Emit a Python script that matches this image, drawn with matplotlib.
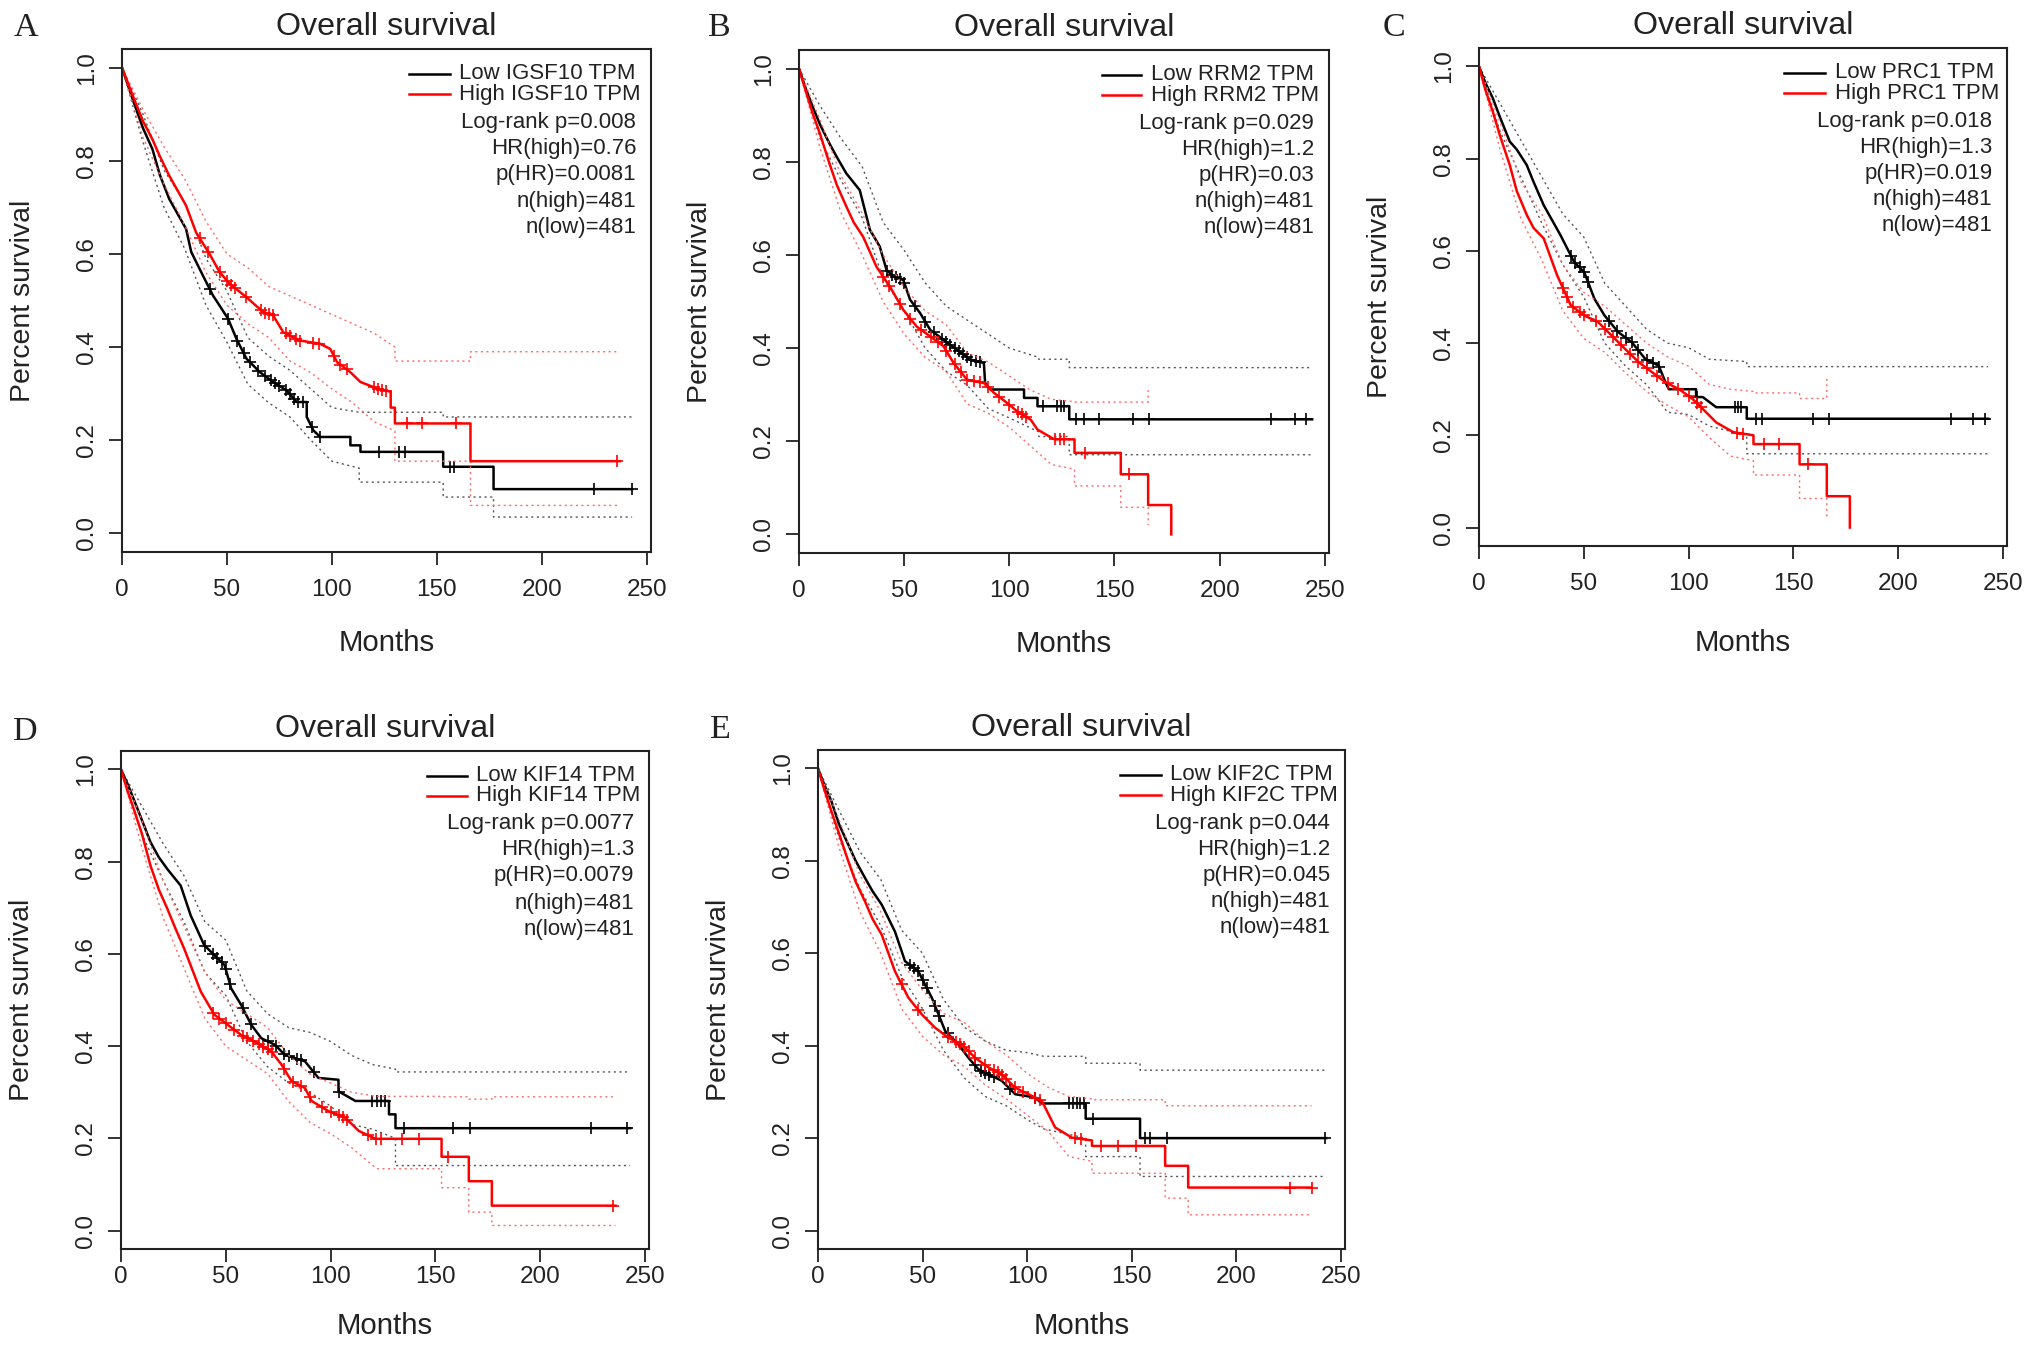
import numpy as np
import matplotlib
matplotlib.use('Agg')
from matplotlib import pyplot as plt

plt.rcParams['font.family'] = ['Liberation Sans', 'DejaVu Sans']

# ---- panel A : IGSF10 ----
A_low_t = [0, 3, 6, 10, 14.5, 18, 22.5, 26, 30.5, 33, 38.5, 43.3, 46.5, 50.5, 54.5, 59.3, 65.7, 72, 78.4, 83.2,
           88, 88, 91.2, 94.4, 108.8, 108.8, 113.6, 113.6, 153, 153, 177, 177, 243]
A_low_s = [1, 0.96, 0.92, 0.87, 0.825, 0.77, 0.718, 0.69, 0.654, 0.604, 0.554, 0.511, 0.489, 0.461, 0.418, 0.375,
           0.346, 0.325, 0.307, 0.282, 0.282, 0.25, 0.221, 0.207, 0.207, 0.189, 0.189, 0.175, 0.175, 0.143, 0.143,
           0.095, 0.095]
A_low_cens = [41.7, 50.5, 55, 58, 61, 65, 68, 71, 73, 75, 78, 80, 82, 84, 86, 90.4, 94.4, 122.3, 132, 134.8,
              156.4, 158, 225, 242.8]
A_low_ci_t = [0, 10, 20, 30, 40, 50, 60, 70, 80, 90, 100, 113, 113, 153, 153, 177, 177, 243]
A_low_lo = [1, 0.84, 0.70, 0.61, 0.49, 0.41, 0.32, 0.28, 0.25, 0.20, 0.155, 0.14, 0.11, 0.11, 0.078, 0.078, 0.035, 0.035]
A_low_hi = [1, 0.90, 0.78, 0.71, 0.59, 0.52, 0.42, 0.38, 0.35, 0.31, 0.27, 0.26, 0.26, 0.26, 0.25, 0.25, 0.25, 0.25]

A_high_t = [0, 3, 6, 10, 14.5, 18, 22.5, 26, 30.5, 35.3, 41.7, 46.5, 51.3, 59.3, 67.3, 72, 76.8, 84.8, 94.4, 99.2,
            102.4, 108.8, 113.6, 121.6, 128, 128, 130, 130, 166, 166, 237]
A_high_s = [1, 0.965, 0.93, 0.885, 0.846, 0.81, 0.768, 0.74, 0.704, 0.646, 0.6, 0.561, 0.536, 0.507, 0.475, 0.468,
            0.432, 0.414, 0.407, 0.396, 0.368, 0.346, 0.325, 0.311, 0.304, 0.27, 0.27, 0.236, 0.236, 0.155, 0.155]
A_high_cens = [37, 41, 46.5, 50, 52, 54, 59, 66, 68, 70, 72, 78, 80, 83, 85, 91, 94, 101, 104, 107, 120, 122, 124,
               126, 136, 143, 158.9, 236]
A_high_ci_t = [0, 10, 20, 30, 40, 50, 60, 70, 80, 90, 100, 110, 120, 130, 130, 166, 166, 237]
A_high_lo = [1, 0.85, 0.75, 0.66, 0.56, 0.49, 0.45, 0.42, 0.37, 0.345, 0.31, 0.28, 0.24, 0.22, 0.155, 0.155, 0.06, 0.06]
A_high_hi = [1, 0.91, 0.83, 0.76, 0.67, 0.60, 0.57, 0.53, 0.51, 0.49, 0.47, 0.45, 0.43, 0.40, 0.37, 0.37, 0.39, 0.39]

# ---- panel B : RRM2 ----
B_low_t = [0, 3, 6.5, 10, 14.5, 18, 22.5, 28.9, 33.7, 38.4, 41.6, 44.8, 49.6, 52.8, 57.6, 62.4, 68.7, 75.1, 81.5,
           87.9, 88.5, 91, 107, 107, 113.4, 113.4, 128.5, 128.5, 244]
B_low_s = [1, 0.96, 0.918, 0.88, 0.839, 0.81, 0.775, 0.739, 0.654, 0.618, 0.568, 0.554, 0.546, 0.504, 0.475, 0.439,
           0.418, 0.396, 0.375, 0.368, 0.325, 0.311, 0.311, 0.293, 0.293, 0.275, 0.275, 0.247, 0.247]
B_low_cens = [42, 44, 46, 48, 50, 55, 60, 64, 68, 70, 72, 74, 76, 78, 80, 82, 84, 86, 116, 122.5, 124.6, 126,
              131.8, 135.3, 142.7, 158.6, 166.3, 224.6, 235.6, 241]
B_low_ci_t = [0, 10, 20, 30, 40, 50, 60, 70, 80, 90, 100, 114, 114, 128.5, 128.5, 244]
B_low_lo = [1, 0.85, 0.76, 0.68, 0.55, 0.48, 0.40, 0.35, 0.32, 0.27, 0.25, 0.22, 0.21, 0.21, 0.171, 0.171]
B_low_hi = [1, 0.92, 0.85, 0.79, 0.67, 0.61, 0.54, 0.49, 0.46, 0.43, 0.40, 0.38, 0.376, 0.376, 0.358, 0.358]

B_high_t = [0, 3, 6.5, 10, 14.5, 18, 22.5, 26, 30.5, 36.8, 43.2, 49.6, 56, 62.4, 68.7, 73.5, 79.9, 87.9, 92.7, 99,
            103.8, 110.2, 113.4, 121.4, 131, 131, 153, 153, 166, 166, 177, 177]
B_high_s = [1, 0.955, 0.904, 0.86, 0.796, 0.75, 0.704, 0.67, 0.639, 0.575, 0.532, 0.482, 0.446, 0.425, 0.404, 0.368,
            0.332, 0.325, 0.304, 0.282, 0.264, 0.246, 0.225, 0.204, 0.204, 0.175, 0.175, 0.129, 0.129, 0.063, 0.063, 0.0]
B_high_cens = [40, 43, 48, 53, 58, 63, 66, 70, 74, 77, 80, 83, 86, 90, 95, 100, 104, 106, 108, 121.5, 124, 126,
               136, 157]
B_high_ci_t = [0, 10, 20, 30, 40, 50, 60, 70, 80, 90, 100, 110, 120, 131, 131, 153, 153, 166, 166]
B_high_lo = [1, 0.83, 0.69, 0.60, 0.50, 0.43, 0.38, 0.35, 0.28, 0.26, 0.23, 0.19, 0.15, 0.14, 0.104, 0.104, 0.058,
             0.058, 0.02]
B_high_hi = [1, 0.89, 0.77, 0.69, 0.60, 0.53, 0.48, 0.45, 0.39, 0.37, 0.34, 0.31, 0.29, 0.285, 0.284, 0.284, 0.284,
             0.284, 0.31]

# ---- panel C : PRC1 ----
C_low_t = [0, 3, 6.6, 10, 14.7, 18, 22.8, 26, 30.9, 38.9, 45.4, 50.2, 55.1, 59.9, 66.4, 72.9, 79.3, 85.8, 89, 90.6,
           103.6, 103.6, 106.8, 113.2, 127.8, 127.8, 243]
C_low_s = [1, 0.965, 0.931, 0.89, 0.837, 0.82, 0.786, 0.75, 0.699, 0.634, 0.576, 0.554, 0.496, 0.46, 0.424, 0.402,
           0.366, 0.351, 0.315, 0.30, 0.30, 0.283, 0.283, 0.261, 0.261, 0.236, 0.236]
C_low_cens = [44, 46, 48, 50, 52, 62, 66, 70, 73, 76, 80, 83, 86, 104, 122, 123.7, 125, 132, 135, 159.3, 167.2,
              225.1, 236, 241.7]
C_low_ci_t = [0, 10, 20, 30, 40, 50, 60, 70, 80, 90, 100, 110, 127.8, 127.8, 243]
C_low_lo = [1, 0.86, 0.76, 0.66, 0.57, 0.50, 0.40, 0.35, 0.31, 0.25, 0.245, 0.22, 0.20, 0.16, 0.16]
C_low_hi = [1, 0.92, 0.84, 0.76, 0.68, 0.63, 0.53, 0.48, 0.43, 0.40, 0.39, 0.365, 0.36, 0.349, 0.349]

C_high_t = [0, 3, 6.6, 10, 14.7, 18, 22.8, 26, 30.9, 37.3, 43.8, 50.2, 56.7, 63.2, 69.6, 76.1, 82.6, 89, 95.5,
            101.9, 108.4, 113.2, 121.3, 131, 131, 153, 153, 166, 166, 177, 177]
C_high_s = [1, 0.95, 0.902, 0.85, 0.786, 0.73, 0.678, 0.65, 0.627, 0.547, 0.482, 0.46, 0.446, 0.417, 0.388, 0.359,
            0.337, 0.315, 0.30, 0.279, 0.25, 0.228, 0.207, 0.2, 0.181, 0.181, 0.137, 0.137, 0.068, 0.068, 0.0]
C_high_cens = [40, 42, 45, 48, 50, 56, 60, 64, 68, 72, 76, 80, 85, 90, 95, 100, 104, 106, 122.9, 126.2, 135.9, 143,
               156.8]
C_high_ci_t = [0, 10, 20, 30, 40, 50, 60, 70, 80, 90, 100, 110, 120, 131, 131, 153, 153, 166, 166]
C_high_lo = [1, 0.82, 0.67, 0.58, 0.47, 0.41, 0.38, 0.335, 0.295, 0.265, 0.24, 0.195, 0.155, 0.145, 0.114, 0.114,
             0.063, 0.063, 0.02]
C_high_hi = [1, 0.88, 0.75, 0.68, 0.57, 0.51, 0.48, 0.44, 0.40, 0.37, 0.35, 0.31, 0.30, 0.295, 0.292, 0.292, 0.28,
             0.28, 0.33]

# ---- panel D : KIF14 ----
D_low_t = [0, 3, 6.1, 10, 14.1, 18, 22.1, 28.5, 33.3, 39.7, 46.2, 49.4, 52.6, 57.4, 62.2, 67, 73.4, 78.2, 87.8,
           94.2, 103.8, 103.8, 111.9, 127.9, 127.9, 131, 131, 243]
D_low_s = [1, 0.97, 0.935, 0.89, 0.842, 0.81, 0.784, 0.748, 0.683, 0.619, 0.59, 0.576, 0.525, 0.489, 0.446, 0.417,
           0.403, 0.381, 0.367, 0.331, 0.327, 0.302, 0.281, 0.281, 0.252, 0.252, 0.222, 0.222]
D_low_cens = [40, 44, 46, 48, 50, 52, 58, 62, 70, 74, 78, 80, 84, 86, 92, 104, 120, 122, 124, 126, 135.3, 158.5,
              166.4, 224.5, 241.7]
D_low_ci_t = [0, 10, 20, 30, 40, 50, 60, 70, 80, 90, 100, 110, 120, 131, 131, 243]
D_low_lo = [1, 0.86, 0.76, 0.67, 0.56, 0.51, 0.41, 0.355, 0.32, 0.30, 0.27, 0.23, 0.22, 0.20, 0.141, 0.141]
D_low_hi = [1, 0.92, 0.84, 0.77, 0.67, 0.63, 0.52, 0.47, 0.44, 0.43, 0.41, 0.38, 0.36, 0.35, 0.344, 0.344]

D_high_t = [0, 3, 6.1, 10, 14.1, 18, 22.1, 26, 30.1, 38.1, 44.6, 51, 57.4, 65.4, 71.8, 76.6, 81.4, 87.8, 91, 99,
            107, 113.5, 121.5, 153, 153, 166, 166, 177, 177, 236]
D_high_s = [1, 0.955, 0.914, 0.86, 0.791, 0.74, 0.698, 0.655, 0.612, 0.518, 0.468, 0.446, 0.424, 0.406, 0.388,
            0.36, 0.324, 0.309, 0.281, 0.259, 0.245, 0.216, 0.199, 0.199, 0.16, 0.16, 0.107, 0.107, 0.054, 0.054]
D_high_cens = [44, 47, 50, 54, 58, 60, 63, 66, 68, 70, 72, 78, 82, 86, 90, 96, 100, 104, 106, 108, 118, 121.8,
               124.3, 134.2, 142.1, 156, 234.9]
D_high_ci_t = [0, 10, 20, 30, 40, 50, 60, 70, 80, 90, 100, 110, 122, 153, 153, 166, 166, 177, 177, 236]
D_high_lo = [1, 0.83, 0.68, 0.57, 0.46, 0.40, 0.37, 0.34, 0.28, 0.235, 0.21, 0.18, 0.134, 0.134, 0.093, 0.093,
             0.04, 0.04, 0.011, 0.011]
D_high_hi = [1, 0.89, 0.76, 0.66, 0.56, 0.50, 0.47, 0.44, 0.38, 0.34, 0.32, 0.30, 0.291, 0.291, 0.29, 0.29, 0.285,
             0.285, 0.29, 0.29]

# ---- panel E : KIF2C ----
E_low_t = [0, 3, 6.5, 10, 14.5, 18, 22.5, 26, 30.5, 36.8, 41.6, 48, 51.2, 54.4, 57.6, 60.8, 67.1, 71.9, 76.7, 81.5,
           87.9, 94.3, 103.8, 107, 128, 128, 154, 154, 243]
E_low_s = [1, 0.965, 0.928, 0.88, 0.835, 0.80, 0.763, 0.735, 0.705, 0.647, 0.583, 0.561, 0.532, 0.504, 0.468,
           0.432, 0.403, 0.374, 0.349, 0.338, 0.324, 0.295, 0.288, 0.275, 0.275, 0.242, 0.242, 0.2, 0.2]
E_low_cens = [44, 46, 48, 50, 52, 56, 58, 62, 75, 78, 80, 82, 84, 92, 104, 120, 122, 124, 125.5, 127, 131.7, 156.6,
              158.7, 167, 242.5]
E_low_ci_t = [0, 10, 20, 30, 40, 50, 60, 70, 80, 90, 100, 108, 128, 128, 154, 154, 243]
E_low_lo = [1, 0.85, 0.74, 0.66, 0.55, 0.48, 0.39, 0.33, 0.29, 0.27, 0.24, 0.22, 0.20, 0.16, 0.16, 0.117, 0.117]
E_low_hi = [1, 0.91, 0.82, 0.76, 0.65, 0.60, 0.50, 0.44, 0.41, 0.39, 0.385, 0.377, 0.377, 0.362, 0.362, 0.347, 0.347]

E_high_t = [0, 3, 6.5, 10, 14.5, 18, 22.5, 26, 30.5, 36.8, 43.2, 49.6, 56, 62.4, 68.7, 75.1, 81.5, 87.9, 94.3,
            100.6, 107, 110.2, 113.4, 121.4, 131, 131, 166, 166, 177, 177, 236]
E_high_s = [1, 0.955, 0.906, 0.86, 0.799, 0.755, 0.712, 0.675, 0.640, 0.561, 0.504, 0.468, 0.439, 0.417, 0.403,
            0.374, 0.353, 0.338, 0.309, 0.295, 0.281, 0.252, 0.223, 0.201, 0.195, 0.183, 0.183, 0.14, 0.14, 0.093, 0.093]
E_high_cens = [40, 48, 62, 66, 68, 70, 72, 75, 80, 84, 86, 88, 90, 94, 98, 104, 106, 123, 126, 135.5, 143.3, 152,
               225.6, 236]
E_high_ci_t = [0, 10, 20, 30, 40, 50, 60, 70, 80, 90, 100, 110, 120, 131, 131, 166, 166, 177, 177, 236]
E_high_lo = [1, 0.83, 0.69, 0.60, 0.48, 0.42, 0.38, 0.355, 0.315, 0.285, 0.25, 0.215, 0.16, 0.15, 0.124, 0.124,
             0.07, 0.07, 0.034, 0.034]
E_high_hi = [1, 0.89, 0.77, 0.69, 0.58, 0.52, 0.47, 0.45, 0.41, 0.38, 0.34, 0.31, 0.29, 0.285, 0.283, 0.283, 0.27,
             0.27, 0.27, 0.27]

letters = ['A', 'B', 'C', 'D', 'E']
genes = ['IGSF10', 'RRM2', 'PRC1', 'KIF14', 'KIF2C']
logrank_p = ['0.008', '0.029', '0.018', '0.0077', '0.044']
hr_high = ['0.76', '1.2', '1.3', '1.3', '1.2']
p_hr = ['0.0081', '0.03', '0.019', '0.0079', '0.045']
n_high = [481, 481, 481, 481, 481]
n_low = [481, 481, 481, 481, 481]

low_groups = [
    (A_low_t, A_low_s, A_low_cens, A_low_ci_t, A_low_lo, A_low_hi),
    (B_low_t, B_low_s, B_low_cens, B_low_ci_t, B_low_lo, B_low_hi),
    (C_low_t, C_low_s, C_low_cens, C_low_ci_t, C_low_lo, C_low_hi),
    (D_low_t, D_low_s, D_low_cens, D_low_ci_t, D_low_lo, D_low_hi),
    (E_low_t, E_low_s, E_low_cens, E_low_ci_t, E_low_lo, E_low_hi),
]
high_groups = [
    (A_high_t, A_high_s, A_high_cens, A_high_ci_t, A_high_lo, A_high_hi),
    (B_high_t, B_high_s, B_high_cens, B_high_ci_t, B_high_lo, B_high_hi),
    (C_high_t, C_high_s, C_high_cens, C_high_ci_t, C_high_lo, C_high_hi),
    (D_high_t, D_high_s, D_high_cens, D_high_ci_t, D_high_lo, D_high_hi),
    (E_high_t, E_high_s, E_high_cens, E_high_ci_t, E_high_lo, E_high_hi),
]

# layout (pixels): box left, top, right, bottom
W, H = 2031, 1349
boxes = [(122, 49, 651, 552), (799, 50, 1329, 553), (1479, 48, 2007, 546),
         (121, 751, 649, 1249), (818, 750, 1345, 1249)]
xtick_pad = [10, 10, 10, 3, 3]          # points
months_off = [91, 91, 97, 77, 77]       # px below box
# legend: line start, line end, text start (axes fraction)
legend_x = [(0.543, 0.620, 0.637), (0.572, 0.645, 0.664), (0.577, 0.655, 0.674),
            (0.579, 0.655, 0.673), (0.573, 0.650, 0.667)]
legend_right = 0.972
legend_rows = [24.6, 45, 73, 99, 125, 152, 178]   # px below box top
letter_xy = [(26, 28), (719, 28), (1394, 28), (25, 732), (720, 730)]

PT = 0.72  # points per pixel at dpi 100
TXT = '#222222'

fig = plt.figure(figsize=(W / 100, H / 100), dpi=100)


def draw_group(ax, grp, color, ci_color):
    t, s, cens, ci_t, lo, hi = grp
    ax.plot(ci_t, lo, color=ci_color, lw=1.0, ls=(0, (1.5, 2.5)))
    ax.plot(ci_t, hi, color=ci_color, lw=1.0, ls=(0, (1.5, 2.5)))
    ax.plot(t, s, color=color, lw=1.8)
    cy = np.interp(cens, t, s)
    ax.plot(cens, cy, ls='none', marker='+', ms=9, mew=1.2, color=color)


for i in range(5):
    l, t, r, b = boxes[i]
    ax = fig.add_axes([l / W, 1 - b / H, (r - l) / W, (b - t) / H])
    draw_group(ax, low_groups[i], 'black', '#555555')
    draw_group(ax, high_groups[i], '#ff0000', '#ff6a6a')

    ax.set_xlim(0, 252)
    ax.set_ylim(-0.04, 1.04)
    ax.set_xticks([0, 50, 100, 150, 200, 250])
    ax.set_yticks([0, 0.2, 0.4, 0.6, 0.8, 1.0])
    ax.set_yticklabels(['0.0', '0.2', '0.4', '0.6', '0.8', '1.0'])
    ax.tick_params(axis='both', length=13 * PT, width=1.3, direction='out', labelsize=17.5, colors=TXT)
    ax.tick_params(axis='x', pad=xtick_pad[i])
    ax.tick_params(axis='y', pad=8)
    for tl in ax.get_yticklabels():
        tl.set_rotation(90)
        tl.set_va('center')
    for sp in ax.spines.values():
        sp.set_linewidth(1.5)
        sp.set_color(TXT)

    ax.annotate('Overall survival', xy=(0.5, 1), xycoords='axes fraction', xytext=(0, 22 * PT),
                textcoords='offset points', ha='center', va='center', fontsize=23.2, color=TXT)
    ax.annotate('Months', xy=(0.5, 0), xycoords='axes fraction', xytext=(0, -months_off[i] * PT),
                textcoords='offset points', ha='center', va='center', fontsize=21.2, color=TXT)
    ax.annotate('Percent survival', xy=(0, 0.5), xycoords='axes fraction', xytext=(-99 * PT, 0),
                textcoords='offset points', ha='center', va='center', rotation=90, fontsize=20.5,
                color=TXT)

    # legend block
    x0, x1, xt = legend_x[i]
    labels_lr = ['Low %s TPM' % genes[i], 'High %s TPM' % genes[i]]
    for k, (lab, col) in enumerate(zip(labels_lr, ['black', '#ff0000'])):
        yk = 1 - legend_rows[k] / (b - t)
        ax.plot([x0, x1], [yk, yk], transform=ax.transAxes, color=col, lw=1.8, clip_on=False)
        ax.text(xt, yk, lab, transform=ax.transAxes, ha='left', va='center', fontsize=16, color=TXT)
    stats = ['Log-rank p=%s' % logrank_p[i], 'HR(high)=%s' % hr_high[i], 'p(HR)=%s' % p_hr[i],
             'n(high)=%d' % n_high[i], 'n(low)=%d' % n_low[i]]
    for k, lab in enumerate(stats):
        yk = 1 - legend_rows[k + 2] / (b - t)
        ax.text(legend_right, yk, lab, transform=ax.transAxes, ha='right', va='center', fontsize=16,
                color=TXT)

    lx, ly = letter_xy[i]
    fig.text(lx / W, 1 - ly / H, letters[i], ha='center', va='center', fontsize=24.5,
             family=['Liberation Serif', 'DejaVu Serif'], color=TXT)

fig.savefig('out.png', dpi=100, facecolor='white')
